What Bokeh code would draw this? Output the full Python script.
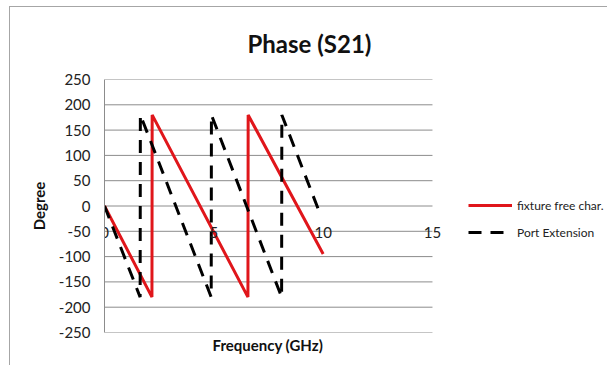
from bokeh.plotting import figure
from bokeh.models import (Range1d, FixedTicker, ColumnDataSource, Legend,
                          LegendItem, Title)
from bokeh.embed import file_html
from bokeh.resources import INLINE

# ---- data ----
fixture_freq = [0.0, 2.17, 2.18, 6.56, 6.57, 10.0]
fixture_phase = [0, -180, 180, -180, 180, -95]

port_freq = [0.0, 1.63, 1.64, 4.88, 4.89, 8.10, 8.11, 9.9]
port_phase = [0, -180, 180, -180, 180, -180, 180, -20]

x_ticks = [0, 5, 10, 15]
y_ticks = [-250, -200, -150, -100, -50, 0, 50, 100, 150, 200, 250]

title_text = "Phase (S21)"
x_label = "Frequency (GHz)"
y_label = "Degree"
series_names = ["fixture free char.", "Port Extension"]

FONT = "Lato"
GRID = "#8c8c8c"
X_MAX = 15      # last x tick / end of the grid
X_VIEW = 23.05  # the frame continues to the right to host the legend

p = figure(width=598, height=359, output_backend="svg", toolbar_location=None,
           x_range=Range1d(0, X_VIEW), y_range=Range1d(-250, 250),
           min_border_left=94, min_border_right=0, min_border_top=72,
           min_border_bottom=34)
p.styles = {"border-left": "1px solid #a6a6a6", "border-top": "1px solid #a6a6a6",
            "margin-left": "9px", "margin-top": "6px"}
p.outline_line_color = None
p.background_fill_color = "white"
p.border_fill_color = "white"

# horizontal grid lines, only over the 0..15 GHz span
p.xgrid.visible = False
p.ygrid.visible = False
grid_src = ColumnDataSource(dict(x0=[0] * len(y_ticks), x1=[X_MAX] * len(y_ticks),
                                 y=y_ticks))
p.segment(x0="x0", x1="x1", y0="y", y1="y", source=grid_src,
          line_color=GRID, line_width=1)

# y axis
p.yaxis.ticker = FixedTicker(ticks=y_ticks)
p.yaxis.major_label_overrides = {v: str(v) for v in y_ticks}
p.yaxis.axis_line_color = GRID
p.yaxis.major_tick_line_color = None
p.yaxis.minor_tick_line_color = None
p.yaxis.major_label_standoff = 8
p.yaxis.major_label_text_font = FONT
p.yaxis.major_label_text_font_size = "15px"
p.yaxis.major_label_text_color = "#222222"
p.yaxis.axis_label = y_label
p.yaxis.axis_label_text_font = FONT
p.yaxis.axis_label_text_font_style = "bold"
p.yaxis.axis_label_text_font_size = "15px"
p.yaxis.axis_label_text_color = "#111111"
p.yaxis.axis_label_standoff = 8

# x axis sits on the zero line
xa = p.xaxis[0]
xa.fixed_location = 0
xa.ticker = FixedTicker(ticks=x_ticks)
xa.axis_line_color = None
xa.major_tick_line_color = None
xa.minor_tick_line_color = None
xa.major_label_standoff = 15
xa.major_label_text_font = FONT
xa.major_label_text_font_size = "15px"
xa.major_label_text_color = "#222222"

# x axis title at the bottom
p.add_layout(Title(text=x_label, align="left", offset=108, standoff=6,
                   vertical_align="top", text_font=FONT, text_font_style="bold",
                   text_font_size="15px", text_color="#111111"), "below")

# chart title
p.title.text = title_text
p.title.align = "left"
p.title.offset = 143
p.title.standoff = 41
p.title.vertical_align = "middle"
p.title.text_font = FONT
p.title.text_font_style = "bold"
p.title.text_font_size = "24px"
p.title.text_color = "#111111"

# series
r1 = p.line(fixture_freq, fixture_phase, line_color="#E0161B", line_width=3)
r2 = p.line(port_freq, port_phase, line_color="black", line_width=3,
            line_dash="13 9")

legend = Legend(items=[LegendItem(label=series_names[0], renderers=[r1]),
                       LegendItem(label=series_names[1], renderers=[r2])],
                location=(364, 90), orientation="vertical",
                glyph_width=44, glyph_height=20, label_height=20, spacing=7,
                label_standoff=5, padding=0, margin=0,
                border_line_color=None, background_fill_alpha=0,
                label_text_font=FONT, label_text_font_size="12px",
                label_text_color="#222222")
p.add_layout(legend, "center")

open("out.html", "w").write(file_html(p, INLINE))
